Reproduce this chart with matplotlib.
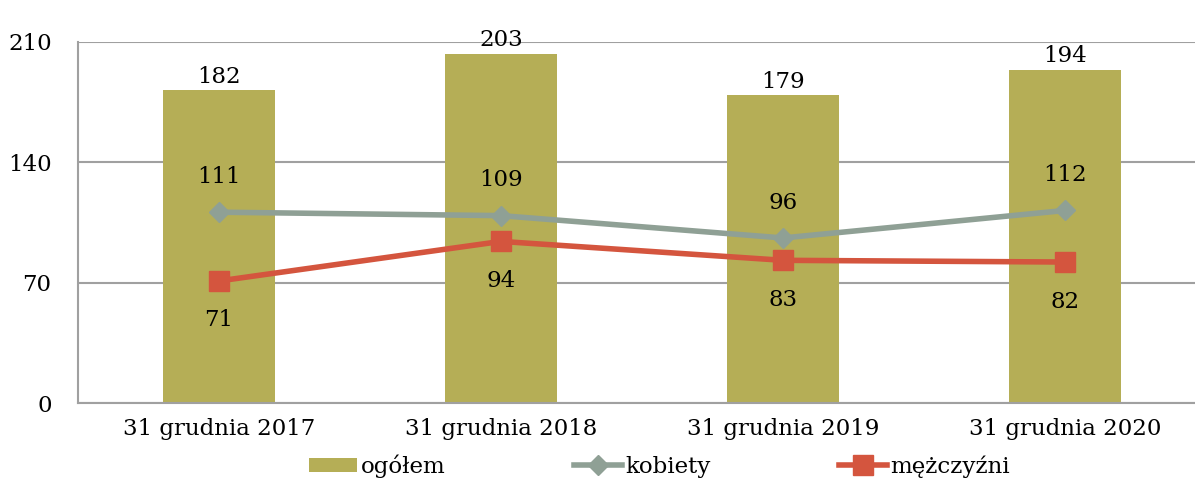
import matplotlib
matplotlib.use("Agg")
import matplotlib.pyplot as plt
from matplotlib.patches import Patch
from matplotlib.lines import Line2D
import numpy as np

categories = ["31 grudnia 2017", "31 grudnia 2018", "31 grudnia 2019", "31 grudnia 2020"]
ogolem = [182, 203, 179, 194]
kobiety = [111, 109, 96, 112]
mezczyzni = [71, 94, 83, 82]
yticks = [0, 70, 140, 210]

plt.rcParams['font.family'] = ['DejaVu Serif']
FS = 16.5

fig = plt.figure(figsize=(11.95, 4.78), dpi=100)
ax = fig.add_axes([78/1195, 75/478, 1128/1195, (403-42)/478])

x = np.arange(len(categories))
bar_c = '#B5AE56'
kob_c = '#8FA095'
mez_c = '#D4553E'

ax.bar(x, ogolem, width=0.4, color=bar_c, zorder=2)
ax.plot(x, kobiety, color=kob_c, lw=4, marker='D', ms=10, zorder=3)
ax.plot(x, mezczyzni, color=mez_c, lw=4, marker='s', ms=14, zorder=4)

for xi, v in zip(x, ogolem):
    ax.text(xi, v + 1.5, str(v), ha='center', va='bottom', fontsize=FS)
for xi, v in zip(x, kobiety):
    ax.text(xi, v + 20.5, str(v), ha='center', va='center', fontsize=FS)
for xi, v in zip(x, mezczyzni):
    ax.text(xi, v - 23, str(v), ha='center', va='center', fontsize=FS)

ax.set_xlim(-0.5, len(categories) - 0.5)
ax.set_ylim(0, 210)
ax.set_yticks(yticks)
ax.set_yticklabels([str(t) for t in yticks], fontsize=FS)
ax.set_xticks(x)
ax.set_xticklabels(categories, fontsize=FS)
ax.tick_params(axis='x', length=0, pad=11)
ax.tick_params(axis='y', length=0, pad=19)
ax.yaxis.grid(True, color='#A0A0A0', lw=1.5, zorder=0)
for s in ['top', 'right']:
    ax.spines[s].set_visible(False)
for s in ['left', 'bottom']:
    ax.spines[s].set_color('#A0A0A0')
    ax.spines[s].set_linewidth(1.5)

handles = [
    Patch(facecolor=bar_c, edgecolor='none'),
    Line2D([], [], color=kob_c, lw=4, marker='D', ms=10),
    Line2D([], [], color=mez_c, lw=4, marker='s', ms=14),
]
labels = ['ogółem', 'kobiety', 'mężczyźni']
fig.legend(handles, labels, loc='center', bbox_to_anchor=(0.552, 12/478), ncol=3, frameon=False,
           fontsize=FS, columnspacing=5.6, handlelength=2.1, handleheight=0.55,
           handletextpad=0.15, borderaxespad=0)

fig.savefig('out.png', dpi=100)
